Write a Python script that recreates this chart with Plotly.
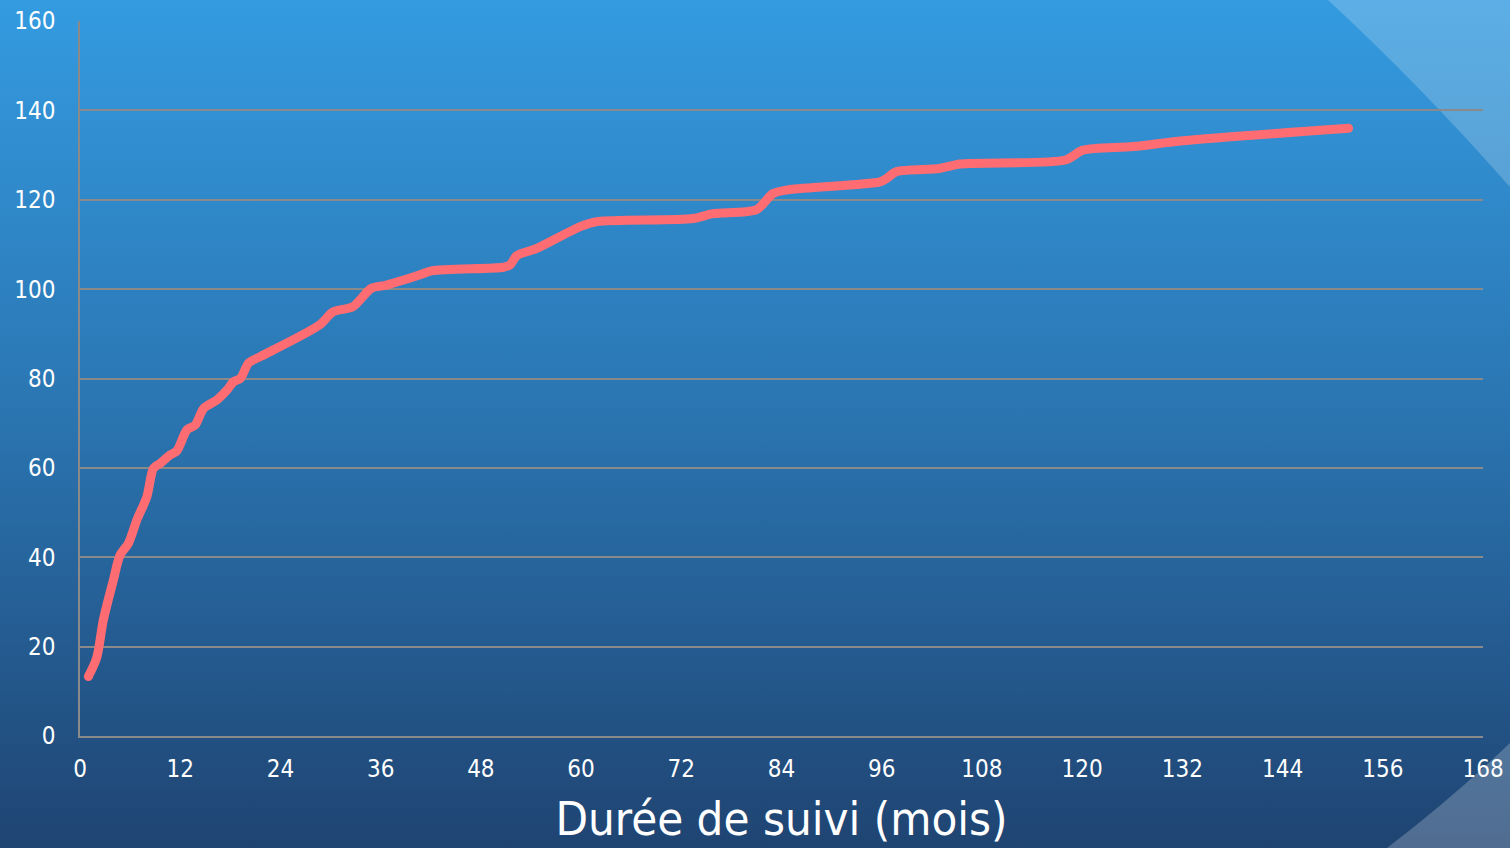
import base64
import plotly.graph_objects as go

# ---- data ----
months = [1.0, 2.0, 2.8, 4.0, 4.8, 5.8, 6.8, 8.0, 8.8, 9.6, 10.8, 11.6, 12.8, 13.8,
          14.8, 16.4, 17.6, 18.4, 19.2, 20.2, 21.6, 28.7, 30.3, 32.7, 34.9, 36.7,
          40.7, 42.1, 50.7, 51.5, 52.3, 54.7, 59.9, 61.9, 73.4, 75.8, 81.0, 83.0,
          85.0, 95.8, 96.6, 97.8, 102.9, 105.4, 118.0, 120.1, 126.1, 132.1, 151.9]
patients = [13.3, 17.5, 26.0, 34.9, 40.5, 43.1, 48.3, 53.5, 59.9, 61.0, 62.9, 63.8,
            68.5, 69.6, 73.3, 75.2, 77.4, 79.3, 80.0, 83.5, 84.9, 92.0, 94.9, 96.1,
            100.2, 100.9, 103.2, 104.1, 104.9, 105.4, 107.5, 109.1, 114.0, 115.1,
            115.8, 116.9, 117.8, 121.4, 122.3, 124.0, 124.8, 126.3, 127.0, 128.0,
            128.9, 131.1, 131.9, 133.2, 136.0]
x_ticks = list(range(0, 169, 12))
y_ticks = list(range(0, 161, 20))
x_title = "Durée de suivi (mois)"

W, H = 1510, 848
ML, MR, MT, MB = 80, 27, 21, 112
PW, PH = W - ML - MR, H - MT - MB
LINE_COLOR = "#ff6d72"

bg_svg = f"""<svg xmlns='http://www.w3.org/2000/svg' width='{W}' height='{H}' viewBox='0 0 {W} {H}' preserveAspectRatio='none'>
<defs><linearGradient id='g' x1='0' y1='0' x2='0' y2='1'>
<stop offset='0' stop-color='#349be0'/>
<stop offset='0.5' stop-color='#2a74b0'/>
<stop offset='1' stop-color='#1f4472'/>
</linearGradient></defs>
<rect x='0' y='0' width='{W}' height='{H}' fill='url(#g)'/>
<path d='M1328,0 Q1420,85 1510,187 L1510,0 Z' fill='#ffffff' fill-opacity='0.2'/>
<path d='M1387,848 Q1450,800 1510,743 L1510,848 Z' fill='#ffffff' fill-opacity='0.22'/>
</svg>"""
bg_uri = "data:image/svg+xml;base64," + base64.b64encode(bg_svg.encode()).decode()

fig = go.Figure()
fig.add_trace(go.Scatter(
    x=months, y=patients, mode="lines",
    line=dict(color=LINE_COLOR, width=9, shape="spline", smoothing=0.8),
    hoverinfo="x+y", showlegend=False,
))
# rounded line ends
fig.add_trace(go.Scatter(
    x=[months[0], months[-1]], y=[patients[0], patients[-1]], mode="markers",
    marker=dict(color=LINE_COLOR, size=9, line=dict(width=0)),
    hoverinfo="skip", showlegend=False,
))

fig.update_layout(
    width=W, height=H, autosize=False,
    margin=dict(l=ML, r=MR, t=MT, b=MB, pad=0),
    paper_bgcolor="#2a74b0", plot_bgcolor="rgba(0,0,0,0)",
    font=dict(family="DejaVu Sans Condensed, DejaVu Sans, sans-serif", color="white"),
    images=[dict(source=bg_uri, xref="paper", yref="paper",
                 x=-ML / PW, y=1 + MT / PH, sizex=W / PW, sizey=H / PH,
                 xanchor="left", yanchor="top", sizing="stretch", layer="below")],
)
fig.update_xaxes(
    range=[0, 168], tickvals=x_ticks, ticktext=[str(v) for v in x_ticks],
    showgrid=False, zeroline=False, showline=True, linecolor="#8a8a8a", linewidth=1.5,
    ticks="", tickfont=dict(size=24, color="white"), ticklabelstandoff=10,
    automargin=False,
    title=dict(text=x_title, font=dict(size=47, color="white"), standoff=21),
)
fig.update_yaxes(
    range=[0, 160], tickvals=y_ticks, ticktext=[str(v) for v in y_ticks],
    showgrid=True, gridcolor="#8a8a8a", gridwidth=1.5, zeroline=False,
    showline=True, linecolor="#8a8a8a", linewidth=1.5, automargin=False,
    ticks="", tickfont=dict(size=24, color="white"), ticklabelstandoff=18,
)

post = ("document.documentElement.style.margin='0';"
        "document.body.style.margin='0';document.body.style.padding='0';"
        "document.body.style.overflow='hidden';"
        "var d=document.getElementById('{plot_id}');"
        "d.style.position='fixed';d.style.left='0px';d.style.top='0px';")

fig.write_html("out.html", config={"displayModeBar": False}, post_script=post)
